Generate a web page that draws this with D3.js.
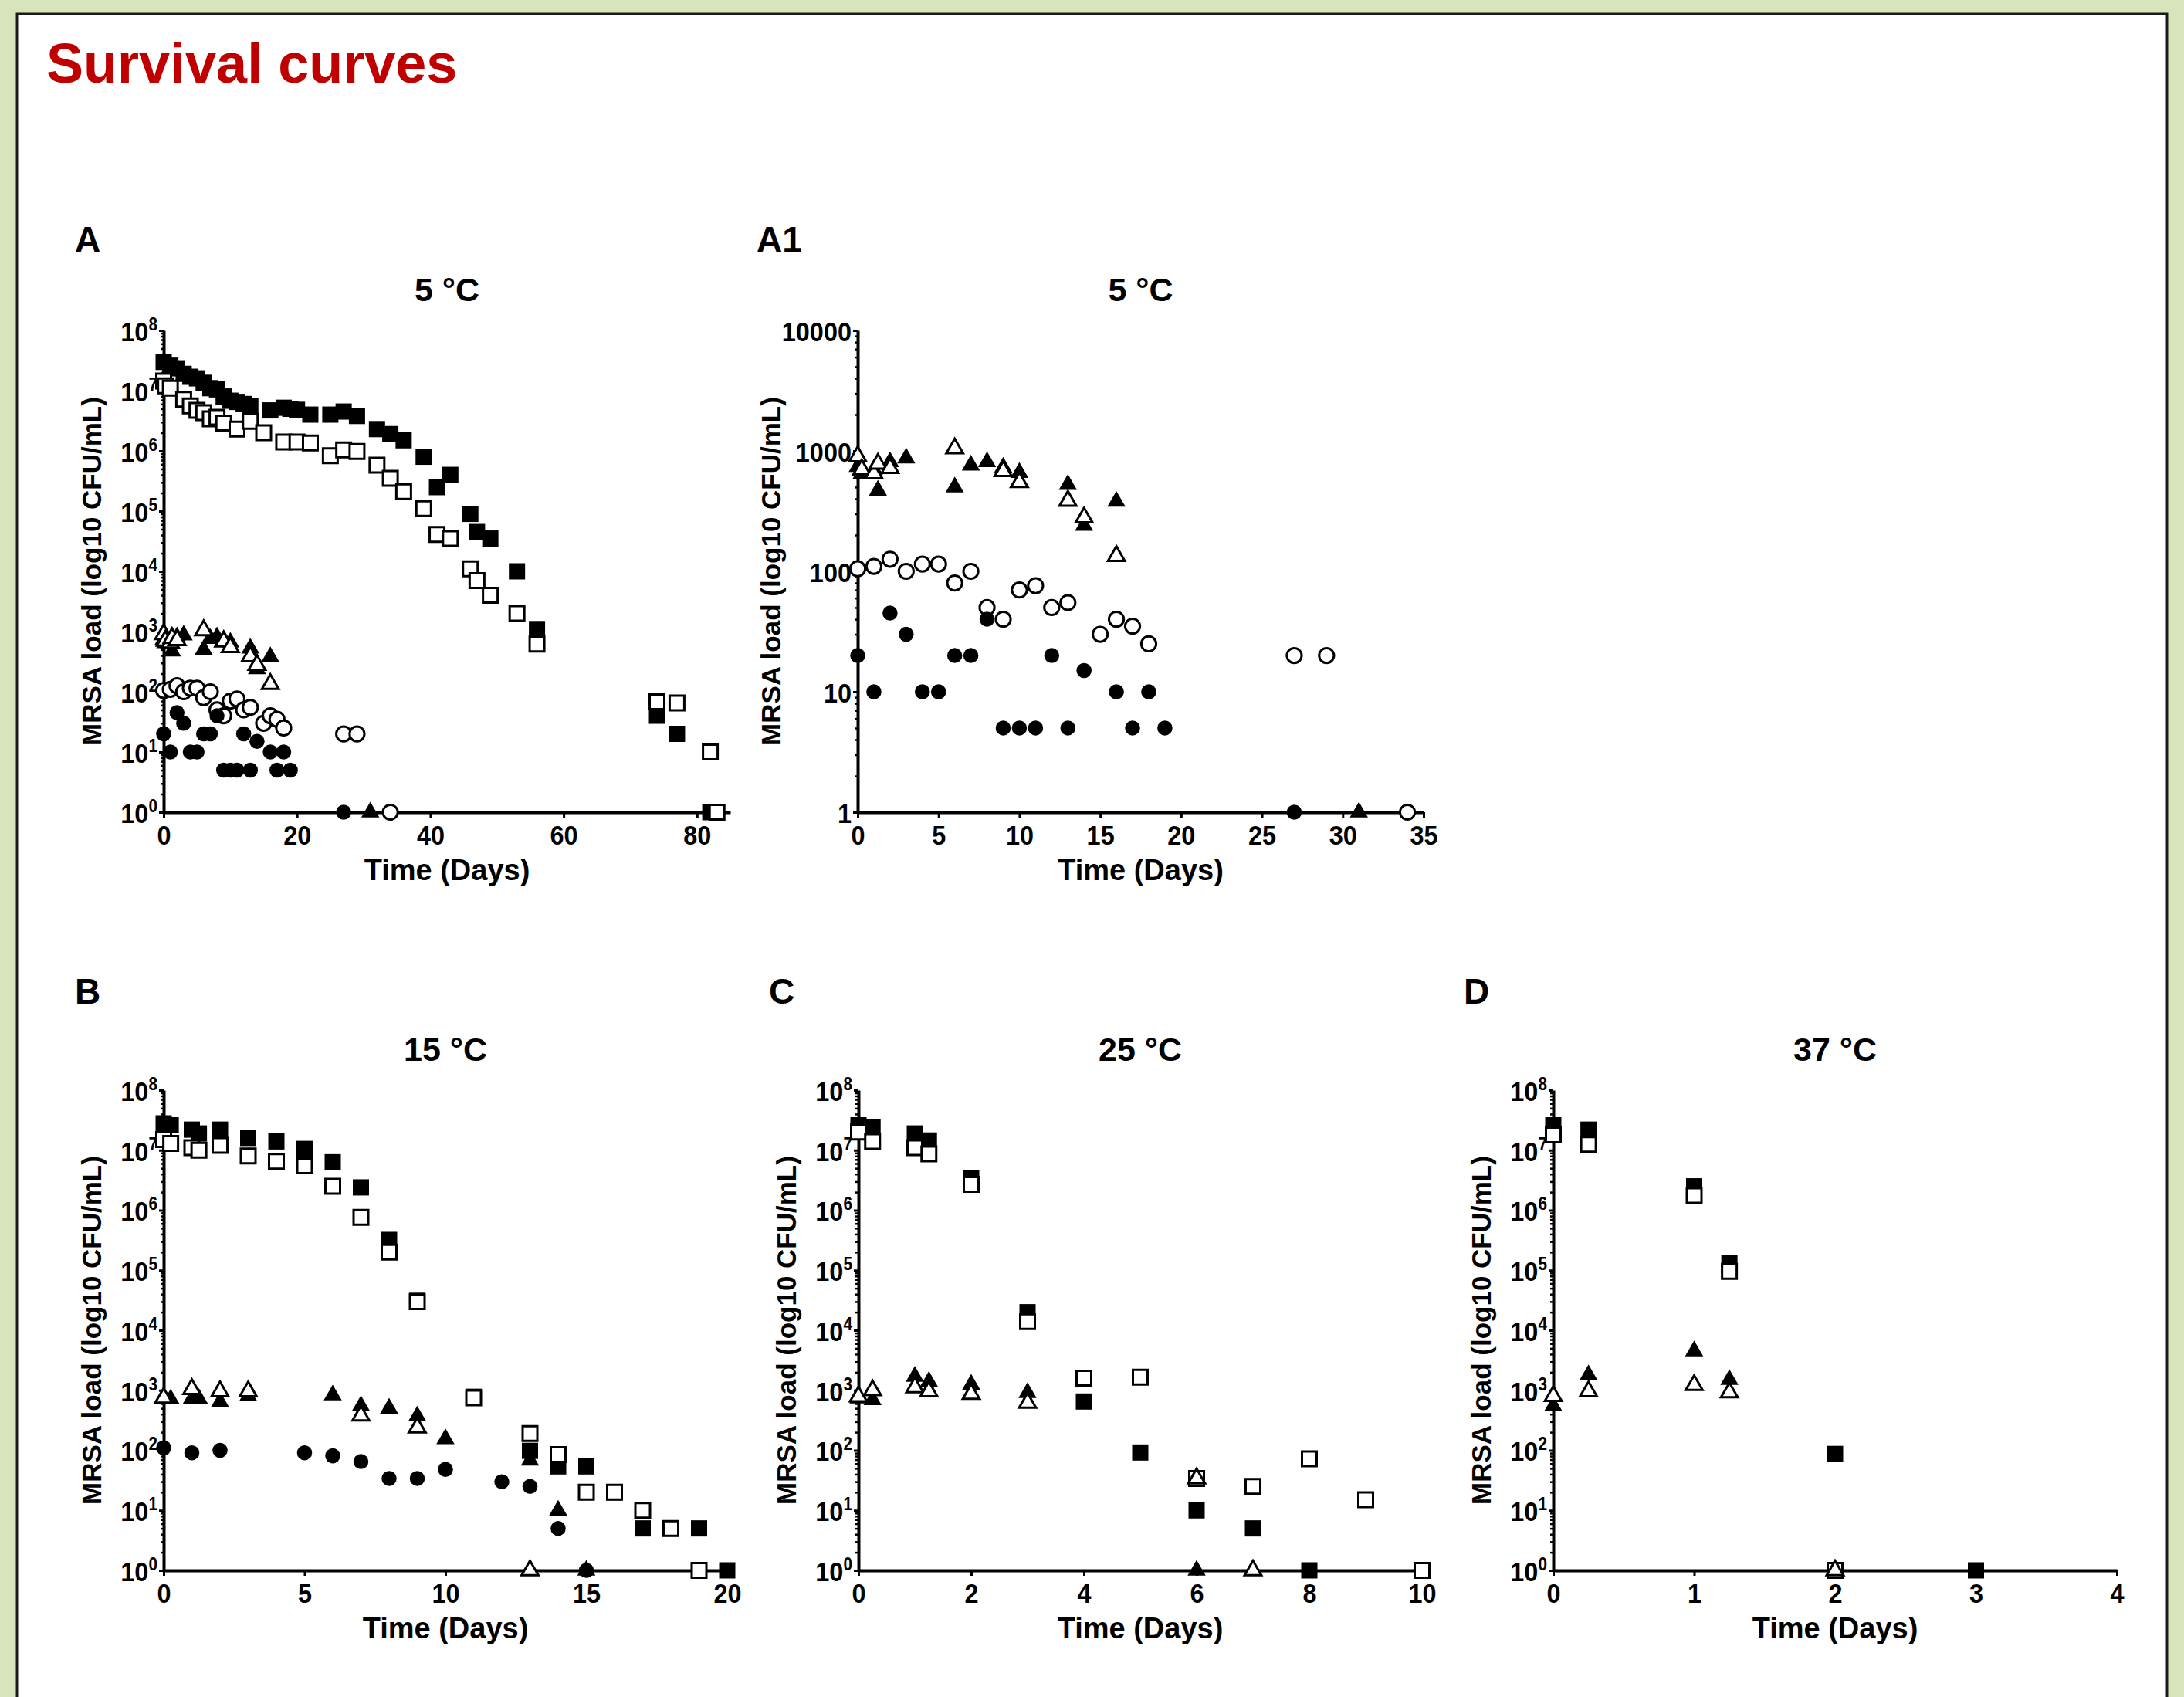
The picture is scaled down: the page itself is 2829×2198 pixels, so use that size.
<!DOCTYPE html>
<html><head><meta charset="utf-8">
<script src="https://cdn.jsdelivr.net/npm/d3@7"></script>
<style>
html,body{margin:0;padding:0;background:#d8e4bc;}
svg{display:block;}
text{font-family:"Liberation Sans",Arial,Helvetica,sans-serif;font-weight:bold;fill:#000;}
</style></head><body>
<svg id="c" width="2829" height="2198"></svg>
<script>
// ---------- DATA (day, CFU/mL) ----------
// 5 °C, high-inoculum series (panel A)
const A_sqFilled = [[0,3e7],[1,2.6e7],[2,2.35e7],[3,1.9e7],[4,1.7e7],[5,1.6e7],[6,1.35e7],[7,1.1e7],[8,1.05e7],[9,8e6],[10,6.8e6],[11,6.5e6],[12,6e6],[13,5.5e6],[16,4.7e6],[18,5.2e6],[19,5e6],[20,4.8e6],[22,4e6],[25,4e6],[27,4.5e6],[29,3.8e6],[32,2.3e6],[34,1.9e6],[36,1.5e6],[39,8e5],[41,2.5e5],[43,4e5],[46,9e4],[47,4.5e4],[49,3.5e4],[53,1e4],[56,1.1e3],[74,40],[77,20],[82,1]];
const A_sqOpen = [[0,1.45e7],[0.25,1.2e7],[1,1.1e7],[3,7.2e6],[4,5.6e6],[5,4.7e6],[6,4.3e6],[7,3.4e6],[8,3.6e6],[9,2.9e6],[11,2.3e6],[13,3.1e6],[15,2e6],[18,1.4e6],[20,1.4e6],[22,1.35e6],[25,8.3e5],[27,1.04e6],[29,9.8e5],[32,5.8e5],[34,3.5e5],[36,2.1e5],[39,1.1e5],[41,4.1e4],[43,3.5e4],[46,1.1e4],[47,7e3],[49,4e3],[53,2e3],[56,620],[74,68],[77,65],[82,10],[83,1]];
// 5 °C, low-inoculum series (panels A and A1)
const L5_triFilled = [[0,740],[0.25,650],[1,700],[1.25,470],[2,810],[3,870],[6,500],[7,760],[8,810],[9,730],[10,660],[13,525],[14,240],[16,380],[31,1]];
const L5_triOpen = [[0,900],[0.25,700],[1,650],[1.25,780],[2,720],[6,1050],[9,680],[10,550],[13,385],[14,280],[16,134]];
const L5_cirOpen = [[0,105],[1,110],[2,126],[3,100],[4,115],[5,115],[6,80],[7,100],[8,50],[9,40],[10,70],[11,76],[12,50],[13,55],[15,30],[16,40],[17,35],[18,25],[27,20],[29,20],[34,1]];
const L5_cirFilled = [[0,20],[1,10],[2,45],[3,30],[4,10],[5,10],[6,20],[7,20],[8,40],[9,5],[10,5],[11,5],[12,20],[13,5],[14,15],[16,10],[17,5],[18,10],[19,5],[27,1]];
// 15 °C (panel B)
const B_sqFilled = [[0,2.8e7],[0.25,2.6e7],[1,2.2e7],[1.25,1.9e7],[2,2.2e7],[3,1.6e7],[4,1.4e7],[5,1.05e7],[6,6.3e6],[7,2.4e6],[8,3.2e5],[9,3.1e4],[11,780],[13,98],[14,54],[15,54],[16,20],[17,5],[18,5],[19,5],[20,1]];
const B_sqOpen = [[0,1.5e7],[0.25,1.3e7],[1,1.1e7],[1.25,1e7],[2,1.2e7],[3,8e6],[4,6.5e6],[5,5.5e6],[6,2.5e6],[7,7.6e5],[8,2e5],[9,3e4],[11,750],[13,190],[14,85],[15,20],[16,20],[17,10],[18,5],[19,1]];
const B_triFilled = [[0,710],[0.25,710],[1,730],[1.25,730],[2,640],[3,800],[6,830],[7,550],[8,500],[9,370],[10,155],[13,68],[14,10],[15,1]];
const B_triOpen = [[0,750],[1,1050],[2,960],[3,960],[7,380],[9,240],[13,1]];
const B_cirFilled = [[0,110],[1,91],[2,100],[5,91],[6,81],[7,65],[8,34],[9,34],[10,48],[12,30],[13,25],[14,5],[15,1]];
// 25 °C (panel C)
const C_sqFilled = [[0,2.6e7],[0.25,2.4e7],[1,1.9e7],[1.25,1.45e7],[2,3.4e6],[3,2e4],[4,650],[5,92],[6,10],[7,5],[8,1]];
const C_sqOpen = [[0,2e7],[0.25,1.4e7],[1,1.1e7],[1.25,8.7e6],[2,2.7e6],[3,1.4e4],[4,1.6e3],[5,1.65e3],[6,34],[7,25],[8,72],[9,15],[10,1]];
const C_triFilled = [[0,740],[0.25,690],[1,1700],[1.25,1400],[2,1250],[3,910],[6,1]];
const C_triOpen = [[0,790],[0.25,1000],[1,1120],[1.25,960],[2,870],[3,620],[6,34],[7,1]];
// 37 °C (panel D)
const D_sqFilled = [[0,2.6e7],[0.25,2.2e7],[1,2.5e6],[1.25,1.3e5],[2,87],[3,1]];
const D_sqOpen = [[0,1.8e7],[0.25,1.25e7],[1,1.75e6],[1.25,9.6e4],[2,1]];
const D_triFilled = [[0,550],[0.25,1800],[1,4500],[1.25,1500]];
const D_triOpen = [[0,800],[0.25,960],[1,1220],[1.25,920],[2,1]];

// tick values / labels
const xTicksA = [0,20,40,60,80];
const xTicksA1 = [0,5,10,15,20,25,30,35];
const xTicksB = [0,5,10,15,20];
const xTicksC = [0,2,4,6,8,10];
const xTicksD = [0,1,2,3,4];
const panelLetters = ['A','A1','B','C','D'];
const panelTitles = ['5 °C','5 °C','15 °C','25 °C','37 °C'];
const yTitle = 'MRSA load (log10 CFU/mL)';
const xTitle = 'Time (Days)';

// ---------- LAYOUT ----------
const W=2829,H=2198;
const svg=d3.select('#c');
svg.append('rect').attr('width',W).attr('height',H).attr('fill','#d8e4bc');
svg.append('rect').attr('x',22).attr('y',18).attr('width',2785).attr('height',2300)
  .attr('fill','#fff').attr('stroke','#1a1a1a').attr('stroke-width',3);
svg.append('text').attr('x',60).attr('y',107).text('Survival curves')
  .style('font-size','72px').style('fill','#c00000');

const panels=[
 {i:0,x0:212,x1:946,y0:428,y1:1052,xmax:85,xticks:xTicksA,ymax:1e8,sup:true,lx:97,ly:326,ty:390,yoff:81,
  s:{sqFilled:A_sqFilled,sqOpen:A_sqOpen,triFilled:L5_triFilled,triOpen:L5_triOpen,cirOpen:L5_cirOpen,cirFilled:L5_cirFilled}},
 {i:1,x0:1111,x1:1844,y0:428,y1:1052,xmax:35,xticks:xTicksA1,ymax:1e4,sup:false,lx:980,ly:326,ty:390,yoff:100,
  s:{triFilled:L5_triFilled,triOpen:L5_triOpen,cirOpen:L5_cirOpen,cirFilled:L5_cirFilled}},
 {i:2,x0:212,x1:942,y0:1412,y1:2034,xmax:20,xticks:xTicksB,ymax:1e8,sup:true,lx:97,ly:1300,ty:1374,yoff:81,
  s:{sqFilled:B_sqFilled,sqOpen:B_sqOpen,triFilled:B_triFilled,triOpen:B_triOpen,cirFilled:B_cirFilled}},
 {i:3,x0:1112,x1:1842,y0:1412,y1:2034,xmax:10,xticks:xTicksC,ymax:1e8,sup:true,lx:996,ly:1300,ty:1374,yoff:81,
  s:{sqFilled:C_sqFilled,sqOpen:C_sqOpen,triFilled:C_triFilled,triOpen:C_triOpen}},
 {i:4,x0:2012,x1:2742,y0:1412,y1:2034,xmax:4,xticks:xTicksD,ymax:1e8,sup:true,lx:1896,ly:1300,ty:1374,yoff:81,
  s:{sqFilled:D_sqFilled,sqOpen:D_sqOpen,triFilled:D_triFilled,triOpen:D_triOpen}}
];

const styles=[
 {key:'sqFilled', type:d3.symbolSquare, size:441, fill:'#000', sw:0},
 {key:'sqOpen', type:d3.symbolSquare, size:361, fill:'#fff', sw:3},
 {key:'triFilled', type:d3.symbolTriangle, size:240, fill:'#000', sw:0},
 {key:'triOpen', type:d3.symbolTriangle, size:205, fill:'#fff', sw:3},
 {key:'cirOpen', type:d3.symbolCircle, size:290, fill:'#fff', sw:3},
 {key:'cirFilled', type:d3.symbolCircle, size:300, fill:'#000', sw:0}
];

const FONT='"Liberation Sans",Arial,sans-serif';
const CX=0.9; // horizontal condensation of tick labels

panels.forEach(p=>{
  const g=svg.append('g');
  const x=d3.scaleLinear().domain([0,p.xmax]).range([p.x0,p.x1]);
  const y=d3.scaleLog().domain([1,p.ymax]).range([p.y1,p.y0]);
  const nDec=Math.round(Math.log10(p.ymax));
  const minors=[];
  for(let e=0;e<nDec;e++) for(let k=2;k<=9;k++) minors.push(k*Math.pow(10,e));
  const majors=d3.range(0,nDec+1).map(e=>Math.pow(10,e));

  // minor y ticks
  g.append('g').attr('transform',`translate(${p.x0},0)`)
    .call(d3.axisLeft(y).tickValues(minors).tickSize(4).tickSizeOuter(0).tickFormat(()=>''))
    .call(s=>{s.select('.domain').remove(); s.selectAll('line').attr('stroke','#000').attr('stroke-width',2.5);});
  // major y axis
  const ya=g.append('g').attr('transform',`translate(${p.x0},0)`)
    .call(d3.axisLeft(y).tickValues(majors).tickSize(6).tickPadding(3).tickSizeOuter(0).tickFormat(()=>''));
  ya.attr('font-size',null).attr('font-family',null);
  ya.select('.domain').attr('stroke','#000').attr('stroke-width',4);
  ya.selectAll('.tick line').attr('stroke','#000').attr('stroke-width',3);
  ya.selectAll('.tick text').attr('dy','0.37em').attr('transform',`scale(${CX},1)`)
    .style('font-size','36px').style('font-family',FONT)
    .each(function(d){
      const t=d3.select(this);
      if(p.sup){
        t.append('tspan').text('10');
        t.append('tspan').attr('dy',-14).style('font-size','23px').text(Math.round(Math.log10(d)));
      } else {
        t.text(String(Math.round(d)));
      }
    });

  // x axis
  const xa=g.append('g').attr('transform',`translate(0,${p.y1})`)
    .call(d3.axisBottom(x).tickValues(p.xticks).tickSize(7).tickPadding(9).tickSizeOuter(0).tickFormat(d3.format('d')));
  xa.attr('font-size',null).attr('font-family',null);
  xa.select('.domain').attr('stroke','#000').attr('stroke-width',4);
  xa.selectAll('.tick line').attr('stroke','#000').attr('stroke-width',3);
  xa.selectAll('.tick text').attr('transform',`scale(${CX},1)`).style('font-size','36px').style('font-family',FONT);

  // titles
  const cx=(p.x0+p.x1)/2;
  g.append('text').attr('x',cx).attr('y',p.y1+88).attr('text-anchor','middle').style('font-size','38px').text(xTitle);
  g.append('text').attr('transform',`translate(${p.x0-p.yoff},${(p.y0+p.y1)/2}) rotate(-90)`)
    .attr('text-anchor','middle').style('font-size','35px').text(yTitle);
  g.append('text').attr('x',cx).attr('y',p.ty).attr('text-anchor','middle').style('font-size','43px').text(panelTitles[p.i]);
  g.append('text').attr('x',p.lx).attr('y',p.ly).style('font-size','46px').text(panelLetters[p.i]);

  // points
  styles.forEach(st=>{
    const data=p.s[st.key];
    if(!data) return;
    const sym=d3.symbol().type(st.type).size(st.size);
    g.append('g').selectAll('path').data(data).join('path')
      .attr('d',sym)
      .attr('transform',d=>`translate(${x(d[0])},${y(d[1])})`)
      .attr('fill',st.fill)
      .attr('stroke',st.sw?'#000':'none')
      .attr('stroke-width',st.sw);
  });
});
</script></body></html>
